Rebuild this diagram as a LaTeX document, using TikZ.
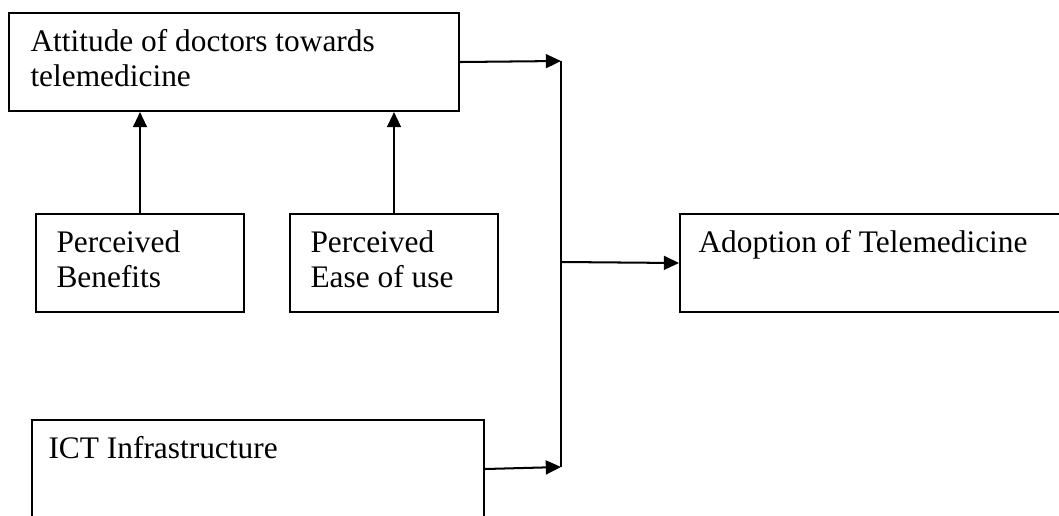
\documentclass[tikz,border=0pt]{standalone}
\usepackage{fontspec}
\setmainfont{Liberation Serif}
\usetikzlibrary{arrows.meta}
\newlength\px
\setlength\px{0.01389cm}

\begin{document}
\begin{tikzpicture}[x=\px, y=-\px,
    box/.style={draw, line width=0.8pt, anchor=north west, inner sep=0pt, minimum height=98\px},
    txt/.style={anchor=north west, inner sep=0pt, align=left, font=\fontsize{12.4}{13.8}\selectfont},
    arr/.style={-{Triangle[length=6pt,width=5.5pt]}, line width=0.8pt}]
\clip (0,0) rectangle (1059,516);
% boxes
\node[box, minimum width=450\px] (att) at (8,12) {};
\node[box, minimum width=208\px] (pb) at (35,213) {};
\node[box, minimum width=208\px] (pe) at (289,213) {};
\node[box, minimum width=400\px] (adopt) at (679,213) {};
\node[box, minimum width=452\px] (ict) at (31,419) {};
% texts
\node[txt] (atttxt) at (30,29) {Attitude of doctors towards\\telemedicine};
\node[txt] (pbtxt) at (56,230) {Perceived\\Benefits};
\node[txt] (petxt) at (310,230) {Perceived\\Ease of use};
\node[txt] (adopttxt) at (698,230) {Adoption of Telemedicine};
\node[txt] (icttxt) at (48,436) {ICT Infrastructure};
% connectors
\coordinate (top) at (561,61);
\coordinate (bot) at (561,467);
\coordinate (junc) at (561,262);
\draw[arr] (pb.north) -- (pb.north |- att.south);
\draw[arr] (pe.north) -- (pe.north |- att.south);
\draw[arr] (att.east) -- (top);
\draw[arr] (ict.east) -- (bot);
\draw[line width=0.8pt] (top) -- (bot);
\draw[arr] (junc) -- (adopt.west);
\end{tikzpicture}
\end{document}
